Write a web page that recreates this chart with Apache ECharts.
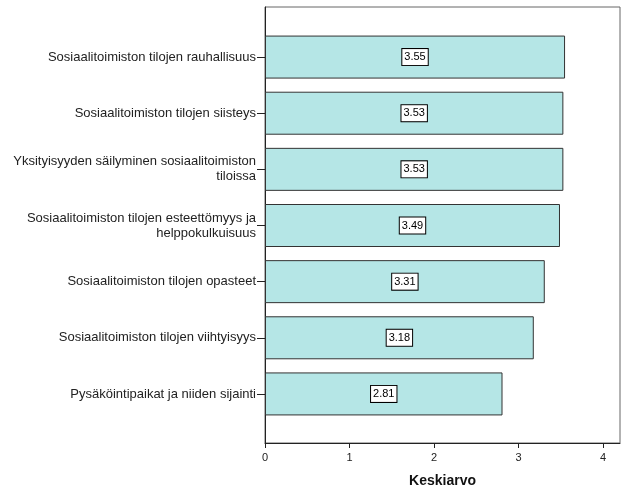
<!DOCTYPE html>
<html>
<head>
<meta charset="utf-8">
<script src="https://cdn.jsdelivr.net/npm/echarts@6/dist/echarts.min.js"></script>
<style>
  html, body { margin: 0; padding: 0; background: #fff; }
  #main { width: 629px; height: 504px; }
</style>
</head>
<body>
<div id="main"></div>
<script>
var categories = [
  'Sosiaalitoimiston tilojen rauhallisuus',
  'Sosiaalitoimiston tilojen siisteys',
  'Yksityisyyden säilyminen sosiaalitoimiston\ntiloissa',
  'Sosiaalitoimiston tilojen esteettömyys ja\nhelppokulkuisuus',
  'Sosiaalitoimiston tilojen opasteet',
  'Sosiaalitoimiston tilojen viihtyisyys',
  'Pysäköintipaikat ja niiden sijainti'
];
var means = [3.55, 3.53, 3.53, 3.49, 3.31, 3.18, 2.81];

const X_MAX = 4.2;
const FONT = '"Liberation Sans", Arial, sans-serif';

var chart = echarts.init(document.getElementById('main'));

var option = {
  animation: false,
  textStyle: { fontFamily: FONT },
  grid: [
    // bars
    { left: 265, right: 9, top: 29, bottom: 82 },
    // frame and x axis
    { left: 265, right: 9, top: 7, bottom: 61, show: true, borderColor: '#666', borderWidth: 1 }
  ],
  xAxis: [
    { gridIndex: 0, type: 'value', min: 0, max: X_MAX, show: false },
    {
      gridIndex: 1, type: 'value', min: 0, max: X_MAX, interval: 1,
      name: 'Keskiarvo', nameLocation: 'middle', nameGap: 31,
      nameTextStyle: { fontSize: 14, fontWeight: 'bold', color: '#111', fontFamily: FONT },
      axisLine: { show: true, lineStyle: { color: '#222', width: 1 } },
      axisTick: { show: true, length: 5, lineStyle: { color: '#222' } },
      axisLabel: { fontSize: 11, color: '#222', margin: 9, showMaxLabel: false },
      splitLine: { show: false }
    }
  ],
  yAxis: [
    {
      gridIndex: 0, type: 'category', data: categories, inverse: true,
      axisLine: { show: false },
      axisTick: { show: true, length: 8, alignWithLabel: true, lineStyle: { color: '#222' } },
      axisLabel: { fontSize: 13, color: '#222', margin: 9, lineHeight: 15, align: 'right',
        padding: [6, 0, 0, 0] }
    },
    {
      gridIndex: 1, type: 'value', min: 0, max: 1,
      axisLine: { show: true, lineStyle: { color: '#222', width: 1 } },
      axisTick: { show: false }, axisLabel: { show: false }, splitLine: { show: false }
    }
  ],
  series: [{
    type: 'bar',
    xAxisIndex: 0,
    yAxisIndex: 0,
    data: means,
    barWidth: 43,
    itemStyle: { color: '#b5e6e6', borderColor: '#333', borderWidth: 1 },
    label: {
      show: true,
      position: 'inside',
      formatter: function (p) { return p.value.toFixed(2); },
      fontSize: 11,
      color: '#000',
      backgroundColor: '#fff',
      borderColor: '#000',
      borderWidth: 1,
      padding: [3, 2, 2, 2]
    }
  }]
};

chart.setOption(option);
</script>
</body>
</html>
